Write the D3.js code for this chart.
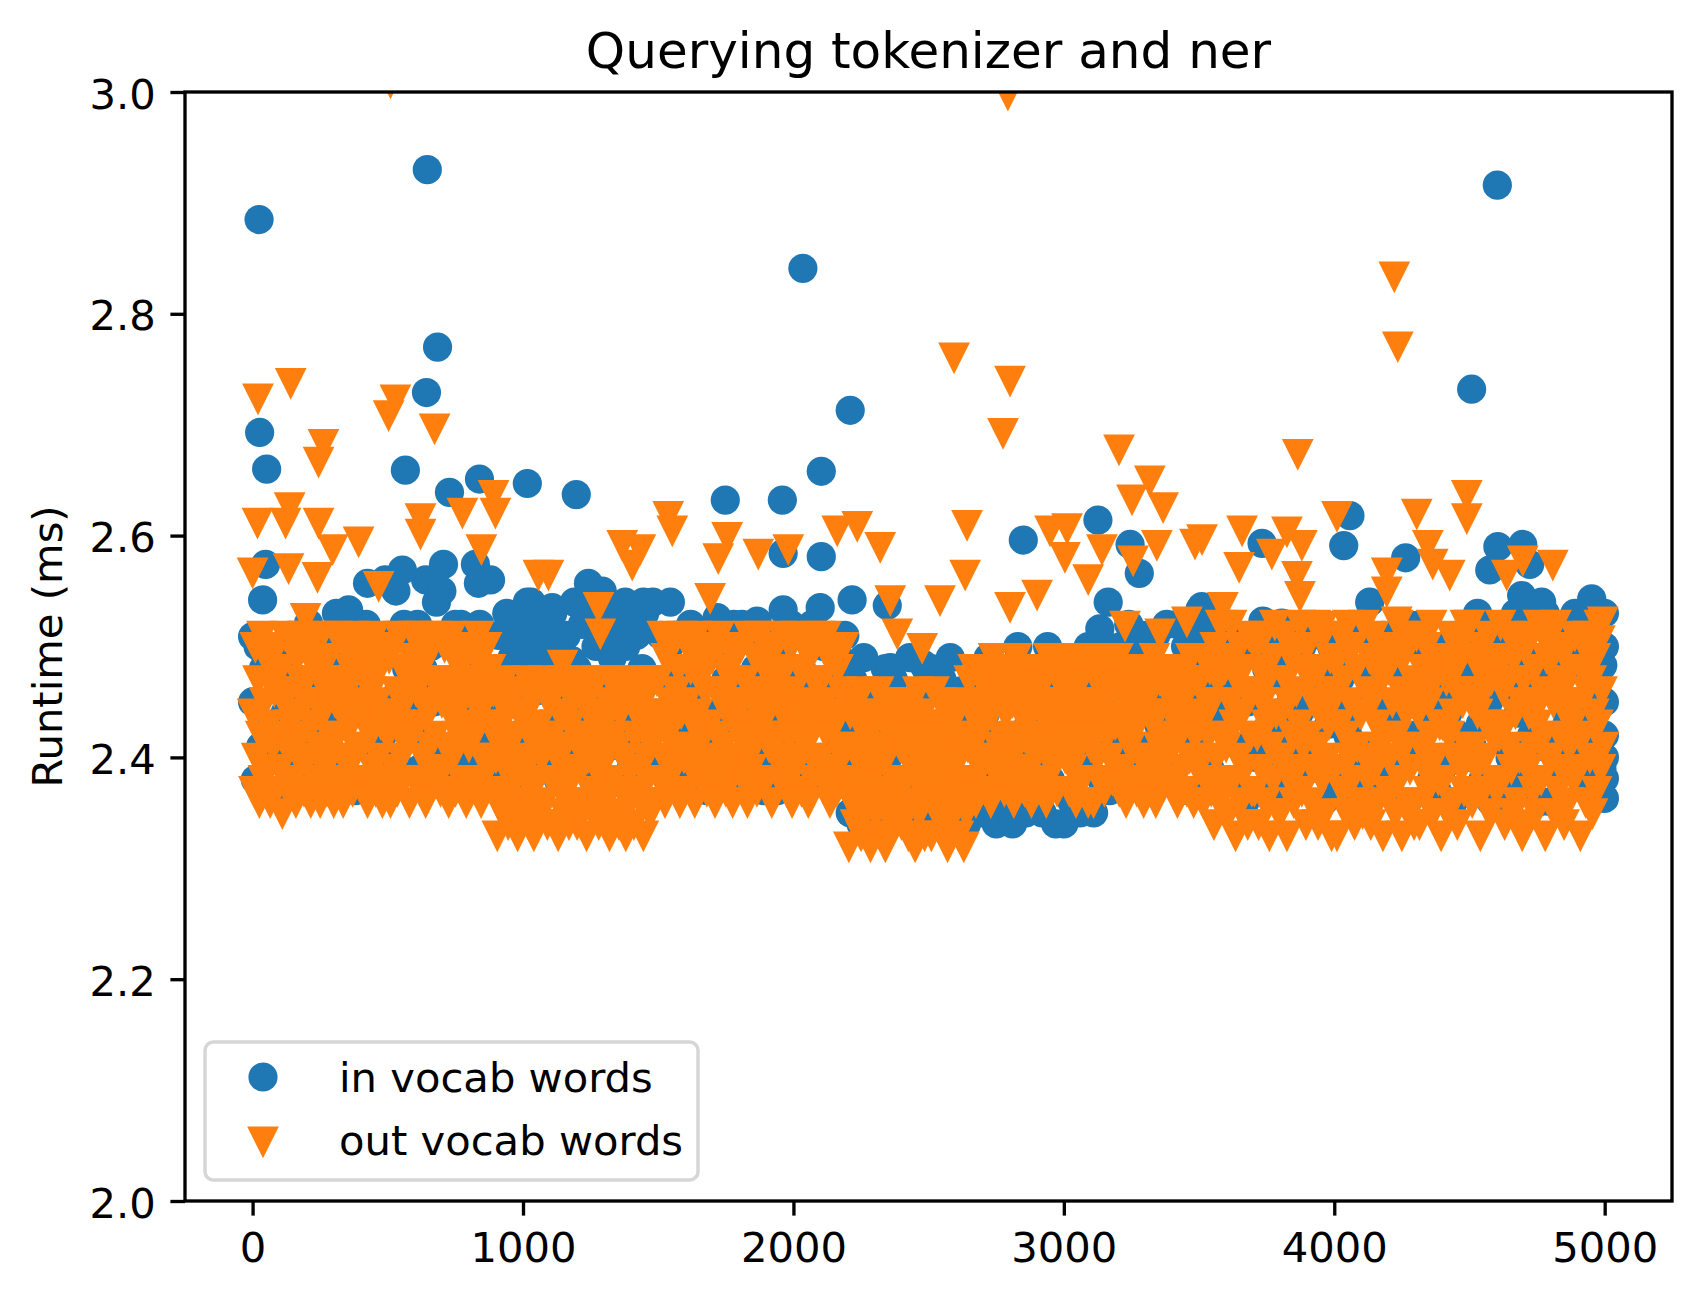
<!DOCTYPE html>
<html>
<head>
<meta charset="utf-8">
<script src="https://cdn.jsdelivr.net/npm/d3@7"></script>
<style>
  body { margin: 0; background: #fff; }
  text { font-family: "DejaVu Sans", sans-serif; fill: #000; }
</style>
</head>
<body>
<svg width="1702" height="1302"></svg>
<script>
// **** data ****

var chartTitle = "Querying tokenizer and ner";
var yLabel = "Runtime (ms)";
var seriesNames = ["in vocab words", "out vocab words"];
var xTicks = [0, 1000, 2000, 3000, 4000, 5000];
var yTicks = [2.0, 2.2, 2.4, 2.6, 2.8, 3.0];
var xExtent = [0, 4999];

// dense band, every 10th query (in vocab)
var inVocabStep = 10;
var inVocabBand = [
  2.45, 2.38, 2.50, 2.41, 2.48, 2.37, 2.50, 2.43, 2.40, 2.47,
  2.40, 2.49, 2.44, 2.37, 2.51, 2.42, 2.46, 2.39, 2.51, 2.43,
  2.50, 2.42, 2.38, 2.47, 2.44, 2.50, 2.39, 2.45, 2.41, 2.48,
  2.43, 2.53, 2.46, 2.40, 2.49, 2.38, 2.51, 2.44, 2.37, 2.52,
  2.38, 2.47, 2.52, 2.44, 2.41, 2.51, 2.45, 2.50, 2.42, 2.56,
  2.51, 2.43, 2.40, 2.55, 2.46, 2.39, 2.52, 2.48, 2.44, 2.51,
  2.46, 2.52, 2.39, 2.48, 2.56, 2.42, 2.50, 2.45, 2.54, 2.41,
  2.55, 2.41, 2.47, 2.51, 2.38, 2.52, 2.44, 2.52, 2.40, 2.49,
  2.42, 2.50, 2.45, 2.39, 2.52, 2.47, 2.51, 2.41, 2.56, 2.46,
  2.44, 2.51, 2.39, 2.47, 2.53, 2.41, 2.49, 2.45, 2.38, 2.52,
  2.50, 2.42, 2.48, 2.54, 2.40, 2.46, 2.52, 2.43, 2.49, 2.39,
  2.41, 2.53, 2.46, 2.38, 2.50, 2.44, 2.51, 2.47, 2.42, 2.54,
  2.48, 2.40, 2.52, 2.45, 2.43, 2.54, 2.39, 2.50, 2.46, 2.51,
  2.53, 2.47, 2.41, 2.49, 2.44, 2.38, 2.52, 2.46, 2.50, 2.43,
  2.39, 2.45, 2.51, 2.42, 2.48, 2.53, 2.40, 2.47, 2.54, 2.44,
  2.47, 2.51, 2.40, 2.44, 2.50, 2.38, 2.51, 2.45, 2.42, 2.48,
  2.42, 2.48, 2.52, 2.39, 2.46, 2.51, 2.41, 2.49, 2.37, 2.51,
  2.51, 2.44, 2.38, 2.50, 2.43, 2.47, 2.51, 2.40, 2.52, 2.45,
  2.38, 2.52, 2.46, 2.42, 2.51, 2.41, 2.48, 2.44, 2.50, 2.37,
  2.45, 2.40, 2.49, 2.51, 2.37, 2.51, 2.43, 2.47, 2.41, 2.52,
  2.51, 2.46, 2.42, 2.48, 2.51, 2.39, 2.45, 2.52, 2.38, 2.44,
  2.40, 2.50, 2.47, 2.38, 2.44, 2.51, 2.42, 2.49, 2.46, 2.51,
  2.42, 2.35, 2.47, 2.39, 2.44, 2.34, 2.49, 2.41, 2.37, 2.45,
  2.38, 2.46, 2.34, 2.43, 2.48, 2.40, 2.36, 2.47, 2.42, 2.35,
  2.45, 2.37, 2.41, 2.49, 2.35, 2.44, 2.39, 2.46, 2.34, 2.48,
  2.36, 2.48, 2.43, 2.34, 2.40, 2.47, 2.35, 2.42, 2.49, 2.38,
  2.44, 2.35, 2.46, 2.38, 2.34, 2.41, 2.36, 2.47, 2.35, 2.43,
  2.35, 2.44, 2.49, 2.38, 2.42, 2.34, 2.47, 2.40, 2.45, 2.36,
  2.47, 2.34, 2.41, 2.50, 2.37, 2.45, 2.35, 2.43, 2.48, 2.39,
  2.40, 2.48, 2.35, 2.44, 2.50, 2.38, 2.46, 2.34, 2.42, 2.49,
  2.34, 2.43, 2.47, 2.36, 2.41, 2.49, 2.35, 2.45, 2.39, 2.50,
  2.46, 2.35, 2.42, 2.48, 2.38, 2.44, 2.50, 2.37, 2.47, 2.41,
  2.43, 2.50, 2.38, 2.46, 2.52, 2.40, 2.47, 2.44, 2.39, 2.51,
  2.49, 2.41, 2.45, 2.37, 2.51, 2.43, 2.48, 2.40, 2.52, 2.46,
  2.38, 2.47, 2.52, 2.42, 2.44, 2.50, 2.37, 2.49, 2.45, 2.41,
  2.51, 2.44, 2.40, 2.48, 2.39, 2.46, 2.52, 2.43, 2.47, 2.38,
  2.44, 2.51, 2.38, 2.47, 2.51, 2.41, 2.49, 2.36, 2.45, 2.50,
  2.50, 2.40, 2.46, 2.51, 2.37, 2.48, 2.43, 2.51, 2.39, 2.47,
  2.37, 2.49, 2.50, 2.42, 2.45, 2.38, 2.51, 2.44, 2.50, 2.41,
  2.46, 2.51, 2.41, 2.48, 2.39, 2.51, 2.36, 2.47, 2.43, 2.50,
  2.50, 2.38, 2.47, 2.44, 2.50, 2.42, 2.51, 2.40, 2.48, 2.37,
  2.41, 2.48, 2.51, 2.37, 2.46, 2.50, 2.39, 2.45, 2.51, 2.43,
  2.48, 2.43, 2.39, 2.51, 2.51, 2.36, 2.47, 2.50, 2.42, 2.46,
  2.51, 2.46, 2.50, 2.40, 2.44, 2.49, 2.38, 2.50, 2.37, 2.45,
  2.39, 2.50, 2.44, 2.47, 2.36, 2.51, 2.42, 2.48, 2.51, 2.40,
  2.47, 2.41, 2.49, 2.53, 2.43, 2.38, 2.51, 2.45, 2.36, 2.50,
  2.43, 2.50, 2.37, 2.46, 2.52, 2.40, 2.48, 2.53, 2.44, 2.39,
  2.51, 2.38, 2.45, 2.42, 2.49, 2.47, 2.36, 2.41, 2.53, 2.46,
  2.36, 2.47, 2.52, 2.39, 2.45, 2.51, 2.43, 2.49, 2.40, 2.53,
  2.45, 2.40, 2.48, 2.52, 2.38, 2.44, 2.50, 2.37, 2.42, 2.39
];

// slow queries above the band, [query, ms] (in vocab)
var inVocabOutliers = [
  [24, 2.885], [26, 2.693], [52, 2.660], [37, 2.542], [48, 2.574],
  [646, 2.930], [643, 2.729], [684, 2.770], [565, 2.659], [728, 2.639],
  [839, 2.651], [1016, 2.647], [1197, 2.637], [425, 2.557], [554, 2.569],
  [706, 2.574], [824, 2.574], [835, 2.557], [355, 2.533], [1108, 2.535],
  [1016, 2.540], [1242, 2.557], [1293, 2.550], [1378, 2.540], [1445, 2.540],
  [1545, 2.540], [1094, 2.516], [1035, 2.502], [1330, 2.502], [1108, 2.484],
  [1182, 2.487], [0, 2.509], [207, 2.521],
  [2210, 2.713], [2103, 2.658], [1748, 2.632], [1959, 2.632], [2103, 2.581],
  [1962, 2.584], [2035, 2.841], [2850, 2.596], [3126, 2.614], [3245, 2.592],
  [3279, 2.566], [3164, 2.540], [3133, 2.516], [3503, 2.533], [1962, 2.533],
  [2099, 2.535], [2217, 2.542], [2347, 2.537], [1718, 2.526], [1866, 2.523],
  [2358, 2.481], [2480, 2.484], [2561, 2.463], [3097, 2.440],
  [4508, 2.732], [4603, 2.916], [4058, 2.618], [4035, 2.591], [3733, 2.593],
  [4264, 2.580], [4605, 2.590], [4697, 2.592], [4575, 2.569], [4723, 2.574],
  [4693, 2.546], [4767, 2.540], [4952, 2.543], [4900, 2.524], [4993, 2.483],
  [4999, 2.381], [4999, 2.363], [4999, 2.400], [4999, 2.420], [4999, 2.450],
  [4999, 2.500], [4999, 2.530], [4131, 2.540], [3510, 2.536],
  [3736, 2.523], [3806, 2.521], [4305, 2.519]
];

// dense band, every 5th query (out vocab)
var outVocabStep = 5;
var outVocabBand = [
  2.44, 2.37, 2.50, 2.40, 2.47, 2.36, 2.42, 2.51, 2.38, 2.45, 2.49, 2.39, 2.43, 2.36, 2.48, 2.41, 2.46, 2.37, 2.50, 2.42,
  2.39, 2.48, 2.35, 2.45, 2.51, 2.41, 2.37, 2.46, 2.43, 2.50, 2.38, 2.44, 2.36, 2.49, 2.40, 2.47, 2.42, 2.51, 2.37, 2.45,
  2.47, 2.40, 2.49, 2.36, 2.43, 2.50, 2.38, 2.45, 2.41, 2.48, 2.36, 2.51, 2.44, 2.39, 2.46, 2.37, 2.49, 2.42, 2.40, 2.47,
  2.36, 2.45, 2.51, 2.42, 2.38, 2.47, 2.44, 2.36, 2.50, 2.40, 2.46, 2.39, 2.48, 2.43, 2.37, 2.51, 2.41, 2.45, 2.38, 2.49,
  2.50, 2.41, 2.38, 2.47, 2.44, 2.36, 2.49, 2.42, 2.46, 2.39, 2.51, 2.37, 2.45, 2.40, 2.48, 2.43, 2.36, 2.50, 2.44, 2.38,
  2.42, 2.49, 2.36, 2.44, 2.50, 2.39, 2.46, 2.37, 2.51, 2.43, 2.40, 2.48, 2.38, 2.45, 2.41, 2.47, 2.36, 2.49, 2.42, 2.51,
  2.38, 2.46, 2.43, 2.51, 2.37, 2.48, 2.40, 2.45, 2.36, 2.49, 2.44, 2.41, 2.50, 2.38, 2.47, 2.42, 2.51, 2.39, 2.46, 2.37,
  2.45, 2.39, 2.50, 2.41, 2.47, 2.36, 2.44, 2.51, 2.40, 2.46, 2.37, 2.49, 2.42, 2.48, 2.38, 2.45, 2.50, 2.43, 2.36, 2.47,
  2.41, 2.50, 2.37, 2.46, 2.42, 2.49, 2.38, 2.51, 2.44, 2.36, 2.47, 2.40, 2.45, 2.50, 2.39, 2.43, 2.48, 2.37, 2.46, 2.42,
  2.40, 2.33, 2.46, 2.37, 2.43, 2.35, 2.47, 2.39, 2.44, 2.34, 2.41, 2.45, 2.36, 2.42, 2.38, 2.46, 2.33, 2.44, 2.40, 2.35,
  2.36, 2.44, 2.39, 2.47, 2.34, 2.42, 2.37, 2.45, 2.33, 2.41, 2.46, 2.38, 2.43, 2.35, 2.40, 2.47, 2.36, 2.42, 2.34, 2.45,
  2.45, 2.38, 2.42, 2.34, 2.46, 2.40, 2.33, 2.44, 2.37, 2.47, 2.35, 2.41, 2.39, 2.46, 2.34, 2.43, 2.38, 2.45, 2.36, 2.42,
  2.34, 2.41, 2.47, 2.39, 2.36, 2.45, 2.42, 2.33, 2.40, 2.44, 2.37, 2.46, 2.35, 2.43, 2.39, 2.47, 2.34, 2.41, 2.44, 2.38,
  2.43, 2.36, 2.40, 2.45, 2.33, 2.47, 2.38, 2.42, 2.35, 2.46, 2.41, 2.34, 2.44, 2.37, 2.45, 2.40, 2.33, 2.47, 2.39, 2.36,
  2.39, 2.46, 2.34, 2.42, 2.44, 2.37, 2.45, 2.36, 2.43, 2.33, 2.47, 2.40, 2.38, 2.46, 2.35, 2.41, 2.44, 2.36, 2.42, 2.47,
  2.47, 2.38, 2.44, 2.51, 2.40, 2.36, 2.49, 2.42, 2.45, 2.37, 2.50, 2.43, 2.39, 2.46, 2.41, 2.48, 2.36, 2.44, 2.51, 2.40,
  2.37, 2.45, 2.50, 2.41, 2.48, 2.39, 2.43, 2.36, 2.51, 2.44, 2.40, 2.47, 2.38, 2.49, 2.42, 2.46, 2.37, 2.50, 2.43, 2.39,
  2.49, 2.40, 2.36, 2.46, 2.42, 2.51, 2.38, 2.45, 2.41, 2.48, 2.37, 2.44, 2.50, 2.39, 2.47, 2.36, 2.43, 2.49, 2.40, 2.45,
  2.42, 2.50, 2.45, 2.38, 2.47, 2.40, 2.36, 2.51, 2.43, 2.39, 2.46, 2.41, 2.49, 2.37, 2.44, 2.51, 2.38, 2.45, 2.42, 2.48,
  2.38, 2.44, 2.41, 2.49, 2.36, 2.46, 2.50, 2.40, 2.47, 2.42, 2.38, 2.51, 2.44, 2.40, 2.48, 2.37, 2.45, 2.42, 2.50, 2.36,
  2.46, 2.39, 2.51, 2.43, 2.40, 2.48, 2.37, 2.44, 2.50, 2.41, 2.45, 2.36, 2.49, 2.42, 2.38, 2.47, 2.43, 2.51, 2.39, 2.44,
  2.40, 2.47, 2.38, 2.45, 2.51, 2.42, 2.49, 2.36, 2.44, 2.39, 2.50, 2.43, 2.37, 2.48, 2.41, 2.46, 2.40, 2.50, 2.38, 2.45,
  2.38, 2.32, 2.44, 2.36, 2.41, 2.45, 2.34, 2.40, 2.37, 2.43, 2.33, 2.46, 2.39, 2.35, 2.42, 2.38, 2.44, 2.32, 2.40, 2.36,
  2.43, 2.35, 2.39, 2.46, 2.33, 2.41, 2.37, 2.44, 2.32, 2.40, 2.45, 2.36, 2.42, 2.34, 2.38, 2.43, 2.35, 2.45, 2.37, 2.41,
  2.34, 2.42, 2.45, 2.38, 2.40, 2.33, 2.44, 2.36, 2.43, 2.39, 2.32, 2.41, 2.46, 2.35, 2.40, 2.37, 2.44, 2.33, 2.42, 2.38,
  2.41, 2.37, 2.33, 2.43, 2.46, 2.39, 2.35, 2.42, 2.38, 2.45, 2.36, 2.40, 2.34, 2.44, 2.32, 2.41, 2.37, 2.43, 2.39, 2.35,
  2.36, 2.44, 2.33, 2.40, 2.45, 2.38, 2.32, 2.42, 2.35, 2.41, 2.47, 2.38, 2.44, 2.48, 2.40, 2.36, 2.48, 2.42, 2.45, 2.39,
  2.43, 2.48, 2.37, 2.46, 2.40, 2.48, 2.36, 2.44, 2.49, 2.39, 2.45, 2.41, 2.38, 2.47, 2.42, 2.48, 2.37, 2.44, 2.40, 2.46,
  2.48, 2.39, 2.45, 2.36, 2.42, 2.49, 2.41, 2.47, 2.38, 2.44, 2.47, 2.37, 2.43, 2.46, 2.39, 2.48, 2.36, 2.42, 2.45, 2.40,
  2.37, 2.46, 2.41, 2.48, 2.44, 2.38, 2.47, 2.36, 2.43, 2.49, 2.40, 2.45, 2.39, 2.48, 2.42, 2.37, 2.47, 2.44, 2.41, 2.47,
  2.45, 2.40, 2.49, 2.43, 2.37, 2.46, 2.39, 2.48, 2.42, 2.36, 2.48, 2.44, 2.41, 2.47, 2.38, 2.45, 2.43, 2.49, 2.36, 2.42,
  2.41, 2.48, 2.36, 2.44, 2.47, 2.40, 2.45, 2.38, 2.47, 2.43, 2.37, 2.49, 2.42, 2.46, 2.40, 2.44, 2.38, 2.48, 2.43, 2.39,
  2.49, 2.37, 2.43, 2.47, 2.39, 2.45, 2.36, 2.42, 2.48, 2.41, 2.46, 2.38, 2.44, 2.48, 2.37, 2.43, 2.47, 2.40, 2.45, 2.36,
  2.38, 2.45, 2.48, 2.40, 2.46, 2.37, 2.43, 2.49, 2.36, 2.44, 2.41, 2.47, 2.39, 2.47, 2.42, 2.38, 2.46, 2.41, 2.48, 2.44,
  2.44, 2.41, 2.38, 2.48, 2.36, 2.47, 2.42, 2.45, 2.39, 2.48, 2.43, 2.37, 2.46, 2.40, 2.49, 2.44, 2.36, 2.42, 2.47, 2.39,
  2.40, 2.47, 2.43, 2.36, 2.49, 2.38, 2.45, 2.42, 2.48, 2.37, 2.45, 2.34, 2.50, 2.40, 2.47, 2.36, 2.52, 2.42, 2.38, 2.48,
  2.41, 2.49, 2.35, 2.45, 2.52, 2.38, 2.43, 2.33, 2.47, 2.40, 2.50, 2.36, 2.44, 2.48, 2.39, 2.46, 2.34, 2.51, 2.42, 2.37,
  2.46, 2.37, 2.50, 2.42, 2.34, 2.48, 2.39, 2.45, 2.51, 2.36, 2.43, 2.47, 2.33, 2.41, 2.49, 2.38, 2.52, 2.44, 2.40, 2.35,
  2.35, 2.44, 2.40, 2.51, 2.47, 2.33, 2.45, 2.38, 2.49, 2.42, 2.36, 2.50, 2.46, 2.39, 2.43, 2.52, 2.37, 2.41, 2.48, 2.34,
  2.50, 2.42, 2.47, 2.36, 2.39, 2.45, 2.52, 2.41, 2.34, 2.48, 2.44, 2.38, 2.51, 2.35, 2.46, 2.40, 2.43, 2.49, 2.33, 2.45,
  2.39, 2.46, 2.33, 2.49, 2.43, 2.51, 2.37, 2.47, 2.42, 2.35, 2.52, 2.40, 2.45, 2.38, 2.50, 2.34, 2.48, 2.41, 2.36, 2.44,
  2.44, 2.35, 2.52, 2.40, 2.46, 2.38, 2.49, 2.34, 2.45, 2.51, 2.39, 2.43, 2.36, 2.48, 2.41, 2.47, 2.33, 2.50, 2.42, 2.37,
  2.48, 2.40, 2.37, 2.45, 2.50, 2.35, 2.42, 2.52, 2.38, 2.46, 2.33, 2.49, 2.41, 2.44, 2.36, 2.51, 2.39, 2.45, 2.47, 2.34,
  2.36, 2.51, 2.44, 2.34, 2.41, 2.48, 2.46, 2.39, 2.50, 2.37, 2.45, 2.42, 2.52, 2.35, 2.47, 2.40, 2.49, 2.38, 2.43, 2.33,
  2.43, 2.38, 2.49, 2.47, 2.35, 2.42, 2.51, 2.36, 2.44, 2.40, 2.48, 2.34, 2.46, 2.50, 2.39, 2.45, 2.37, 2.52, 2.41, 2.46,
  2.52, 2.45, 2.36, 2.41, 2.49, 2.39, 2.44, 2.48, 2.33, 2.50, 2.37, 2.46, 2.40, 2.43, 2.51, 2.35, 2.47, 2.42, 2.38, 2.49,
  2.37, 2.48, 2.42, 2.52, 2.38, 2.46, 2.34, 2.43, 2.47, 2.41, 2.51, 2.39, 2.35, 2.49, 2.44, 2.36, 2.50, 2.40, 2.45, 2.33,
  2.47, 2.34, 2.50, 2.39, 2.44, 2.51, 2.41, 2.37, 2.48, 2.35, 2.43, 2.52, 2.45, 2.38, 2.46, 2.42, 2.33, 2.49, 2.40, 2.50,
  2.40, 2.49, 2.45, 2.35, 2.52, 2.37, 2.47, 2.42, 2.39, 2.46, 2.34, 2.44, 2.50, 2.36, 2.41, 2.48, 2.43, 2.38, 2.51, 2.45,
  2.45, 2.39, 2.33, 2.48, 2.42, 2.50, 2.36, 2.46, 2.51, 2.40, 2.47, 2.35, 2.44, 2.49, 2.37, 2.43, 2.52, 2.39, 2.46, 2.41
];

// slow queries above the band, [query, ms] (out vocab)
var outVocabOutliers = [
  [510, 3.009], [2793, 2.998],
  [20, 2.724], [141, 2.738], [528, 2.723], [503, 2.709], [673, 2.697],
  [262, 2.683], [244, 2.667], [137, 2.626], [122, 2.612], [18, 2.612],
  [244, 2.612], [296, 2.588], [392, 2.595], [133, 2.571], [240, 2.563],
  [0, 2.567], [621, 2.616], [621, 2.602], [776, 2.621], [898, 2.621],
  [891, 2.637], [846, 2.588], [1057, 2.565], [1094, 2.565], [1367, 2.592],
  [1404, 2.574], [1434, 2.588], [1537, 2.618], [1552, 2.605], [466, 2.555],
  [196, 2.526], [1279, 2.536], [1286, 2.512], [1146, 2.484],
  [2594, 2.761], [2801, 2.740], [2775, 2.693], [3204, 2.678], [3318, 2.650],
  [3252, 2.633], [3367, 2.626], [3344, 2.592], [3485, 2.593], [3256, 2.578],
  [2642, 2.610], [2635, 2.565], [1755, 2.599], [1722, 2.580], [1870, 2.584],
  [1981, 2.588], [2162, 2.605], [2236, 2.609], [2321, 2.590], [1692, 2.544],
  [2358, 2.542], [2384, 2.512], [2476, 2.499], [2542, 2.542], [2801, 2.536],
  [2901, 2.547], [2949, 2.605], [3012, 2.607], [3004, 2.581], [3090, 2.561],
  [3141, 2.588], [3455, 2.523], [3226, 2.519], [3356, 2.512],
  [4222, 2.834], [4235, 2.771], [3865, 2.674], [4490, 2.637], [4490, 2.616],
  [4010, 2.618], [4305, 2.620], [3659, 2.605], [3648, 2.572], [3511, 2.597],
  [3825, 2.604], [3880, 2.592], [3769, 2.584], [3862, 2.564], [3873, 2.546],
  [4194, 2.567], [4194, 2.550], [4346, 2.592], [4364, 2.575], [4427, 2.565],
  [4697, 2.578], [4808, 2.574], [4638, 2.565], [4771, 2.512], [4993, 2.523],
  [4982, 2.506], [3588, 2.536], [4231, 2.523], [3958, 2.519]
];

var inVocab = inVocabBand.map(function(v, i) { return {x: i * inVocabStep, y: v}; })
  .concat(inVocabOutliers.map(function(d) { return {x: d[0], y: d[1]}; }));
var outVocab = outVocabBand.map(function(v, i) { return {x: i * outVocabStep, y: v}; })
  .concat(outVocabOutliers.map(function(d) { return {x: d[0], y: d[1]}; }));

// **** drawing ****

var svg = d3.select("svg");
var plotLeft = 185, plotRight = 1672, plotTop = 92, plotBottom = 1201;
var blue = "#1f77b4", orange = "#ff7f0e";
var lw = 3.33; // 0.8pt at 300 dpi

// matplotlib pads the data range by 5%
var pad = (xExtent[1] - xExtent[0]) * 0.05;
var xScale = d3.scaleLinear()
  .domain([xExtent[0] - pad, xExtent[1] + pad])
  .range([plotLeft, plotRight]);

var yScale = d3.scaleLinear()
  .domain([2, 3])
  .range([plotBottom, plotTop]);

// marker shapes (6pt markers)
var circleR = 14.6;
var triPath = "M-12.5,-12.5L12.5,-12.5L0,12.5Z";

svg.append("clipPath")
  .attr("id", "plotclip")
  .append("rect")
  .attr("x", plotLeft).attr("y", plotTop)
  .attr("width", plotRight - plotLeft).attr("height", plotBottom - plotTop);

var plot = svg.append("g").attr("clip-path", "url(#plotclip)");

// in vocab circles
plot.append("g").selectAll("circle")
  .data(inVocab)
  .enter()
  .append("circle")
  .attr("cx", function(d) { return xScale(d.x); })
  .attr("cy", function(d) { return yScale(d.y); })
  .attr("r", circleR)
  .attr("fill", blue);

// out vocab triangles
plot.append("g").selectAll("path")
  .data(outVocab)
  .enter()
  .append("path")
  .attr("d", triPath)
  .attr("transform", function(d) { return "translate(" + xScale(d.x) + "," + yScale(d.y) + ")"; })
  .attr("fill", orange)
  .attr("stroke", orange)
  .attr("stroke-width", 4.17)
  .attr("stroke-linejoin", "miter");

// Define axes
var xAxis = d3.axisBottom(xScale)
  .tickValues(xTicks)
  .tickFormat(d3.format("d"))
  .tickSizeInner(14.6)
  .tickSizeOuter(0)
  .tickPadding(14.6);

var yAxis = d3.axisLeft(yScale)
  .tickValues(yTicks)
  .tickFormat(d3.format(".1f"))
  .tickSizeInner(14.6)
  .tickSizeOuter(0)
  .tickPadding(14.6);

var gx = svg.append("g")
  .attr("transform", "translate(0," + plotBottom + ")")
  .call(xAxis);

var gy = svg.append("g")
  .attr("transform", "translate(" + plotLeft + ",0)")
  .call(yAxis);

[gx, gy].forEach(function(g) {
  g.select(".domain").remove();
  g.selectAll(".tick line").attr("stroke", "#000").attr("stroke-width", lw);
  g.selectAll(".tick text")
    .attr("font-family", "DejaVu Sans")
    .attr("font-size", 41.7)
    .attr("fill", "#000");
});
gx.selectAll(".tick text").attr("dy", 32);
gy.selectAll(".tick text").attr("dy", 16);

// spines
svg.append("rect")
  .attr("x", plotLeft).attr("y", plotTop)
  .attr("width", plotRight - plotLeft).attr("height", plotBottom - plotTop)
  .attr("fill", "none")
  .attr("stroke", "#000")
  .attr("stroke-width", lw)
  .attr("stroke-linejoin", "miter");

// title and y label
svg.append("text")
  .attr("x", (plotLeft + plotRight) / 2)
  .attr("y", 68)
  .attr("text-anchor", "middle")
  .attr("font-size", 50)
  .text(chartTitle);

svg.append("text")
  .attr("transform", "translate(62," + (plotTop + plotBottom) / 2 + ") rotate(-90)")
  .attr("text-anchor", "middle")
  .attr("font-size", 41.7)
  .text(yLabel);

// legend, lower left
var legend = svg.append("g");
legend.append("rect")
  .attr("x", 205).attr("y", 1042)
  .attr("width", 493).attr("height", 138)
  .attr("rx", 8.3).attr("ry", 8.3)
  .attr("fill", "#fff")
  .attr("fill-opacity", 0.8)
  .attr("stroke", "#d6d6d6")
  .attr("stroke-width", 3.5);

legend.append("circle")
  .attr("cx", 263).attr("cy", 1077)
  .attr("r", circleR)
  .attr("fill", blue);

legend.append("path")
  .attr("d", triPath)
  .attr("transform", "translate(263,1141)")
  .attr("fill", orange)
  .attr("stroke", orange)
  .attr("stroke-width", 4.17)
  .attr("stroke-linejoin", "miter");

legend.selectAll(".label")
  .data(seriesNames)
  .enter()
  .append("text")
  .attr("class", "label")
  .attr("x", 339)
  .attr("y", function(d, i) { return 1092 + i * 63; })
  .attr("font-size", 41.7)
  .text(function(d) { return d; });
</script>
</body>
</html>
